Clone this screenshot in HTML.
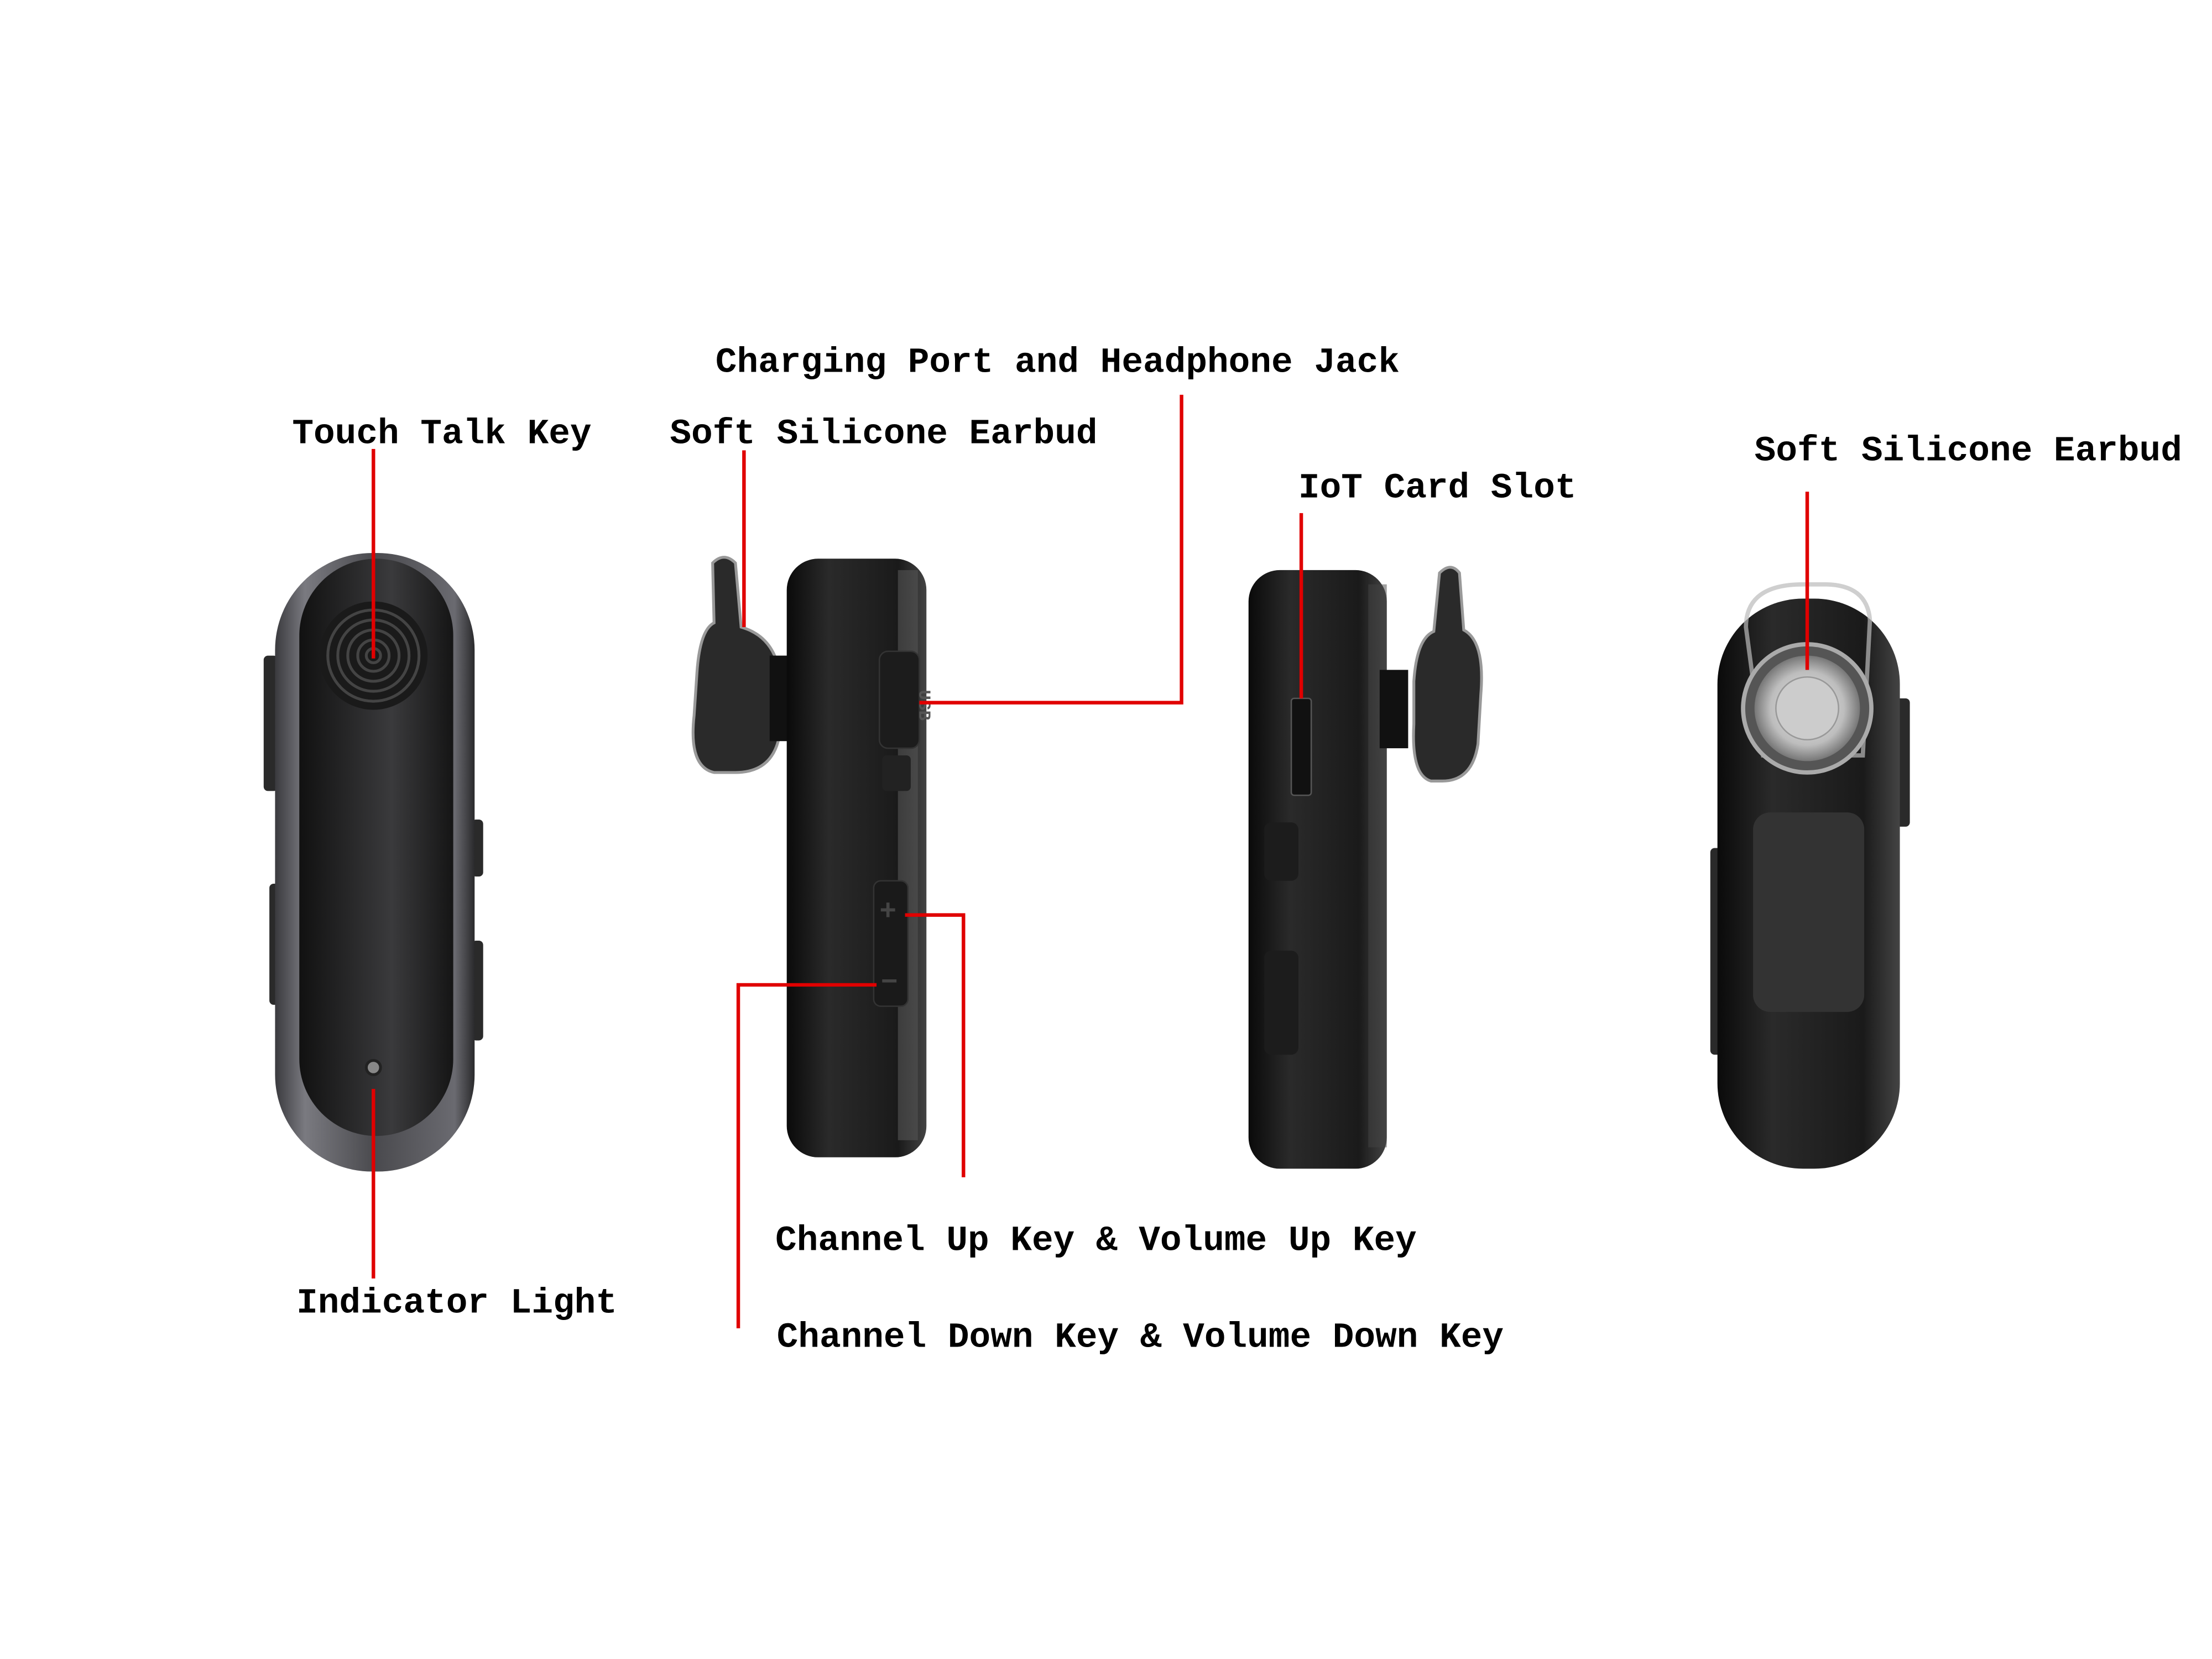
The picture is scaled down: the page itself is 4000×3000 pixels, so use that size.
<!DOCTYPE html>
<html><head><meta charset="utf-8"><style>
html,body{margin:0;padding:0;background:#fff;}
svg{display:block;}
text{font-family:"Liberation Mono",monospace;font-weight:bold;font-size:25px;fill:#000;}
</style></head><body>
<svg width="4000" height="3000" viewBox="0 0 1552 1164" xmlns="http://www.w3.org/2000/svg">
<defs>
<linearGradient id="g1" x1="0" x2="1" y1="0" y2="0">
<stop offset="0" stop-color="#3a3a3e"/><stop offset="0.15" stop-color="#7a7a80"/><stop offset="0.5" stop-color="#4a4a4e"/><stop offset="0.9" stop-color="#6a6a70"/><stop offset="1" stop-color="#2a2a2c"/></linearGradient>
<linearGradient id="g2" x1="0" x2="1" y1="0" y2="0">
<stop offset="0" stop-color="#111"/><stop offset="0.6" stop-color="#3a3a3c"/><stop offset="1" stop-color="#151515"/></linearGradient>
<linearGradient id="g3" x1="0" x2="1" y1="0" y2="0">
<stop offset="0" stop-color="#0a0a0a"/><stop offset="0.3" stop-color="#2a2a2a"/><stop offset="0.8" stop-color="#1a1a1a"/><stop offset="1" stop-color="#444"/></linearGradient>
<radialGradient id="gm" cx="0.5" cy="0.5" r="0.5"><stop offset="0" stop-color="#e8e8e8"/><stop offset="0.7" stop-color="#bdbdbd"/><stop offset="1" stop-color="#777"/></radialGradient>
</defs>

<!-- Device 1 -->
<rect x="185" y="460" width="10" height="95" rx="3" fill="#2a2a2a"/>
<rect x="189" y="620" width="7" height="85" rx="3" fill="#2a2a2a"/>
<rect x="331" y="575" width="8" height="40" rx="3" fill="#2a2a2a"/>
<rect x="331" y="660" width="8" height="70" rx="3" fill="#2a2a2a"/>
<rect x="193" y="388" width="140" height="434" rx="68" fill="url(#g1)"/>
<rect x="210" y="392" width="108" height="405" rx="54" fill="url(#g2)"/>
<circle cx="262" cy="460" r="38" fill="#1a1a1a"/>
<circle cx="262" cy="460" r="32" fill="none" stroke="#444" stroke-width="2"/>
<circle cx="262" cy="460" r="25" fill="none" stroke="#444" stroke-width="2"/>
<circle cx="262" cy="460" r="18" fill="none" stroke="#444" stroke-width="2"/>
<circle cx="262" cy="460" r="11" fill="none" stroke="#444" stroke-width="2"/>
<circle cx="262" cy="460" r="5" fill="none" stroke="#444" stroke-width="2"/>
<circle cx="262" cy="749" r="5" fill="#888" stroke="#222" stroke-width="2"/>

<!-- Device 2 -->
<path d="M500 395 q8 -8 16 0 l4 45 q28 8 28 45 l-2 35 q-6 22 -30 22 l-15 0 q-18 -4 -14 -40 l2 -30 q2 -30 12 -35z" fill="#2a2a2a" stroke="#999" stroke-width="2"/>
<rect x="540" y="460" width="15" height="60" fill="#111"/>
<rect x="552" y="392" width="98" height="420" rx="22" fill="url(#g3)"/>
<rect x="630" y="400" width="14" height="400" fill="#555" opacity="0.6"/>
<rect x="617" y="457" width="28" height="68" rx="6" fill="#1c1c1c" stroke="#333"/>
<text x="625" y="476" transform="rotate(90 631 490)" style="font-size:12px;fill:#555">USB</text>
<rect x="619" y="530" width="20" height="25" rx="3" fill="#222"/>
<rect x="613" y="618" width="24" height="88" rx="5" fill="#1a1a1a" stroke="#333"/>
<text x="617" y="645" style="font-size:20px;fill:#444">+</text>
<text x="618" y="695" style="font-size:20px;fill:#444">−</text>

<!-- Device 3 -->
<rect x="876" y="400" width="97" height="420" rx="22" fill="url(#g3)"/>
<rect x="960" y="410" width="13" height="395" fill="#444" opacity="0.5"/>
<rect x="968" y="470" width="20" height="55" fill="#111"/>
<path d="M1010 402 q8 -8 14 0 l3 40 q15 8 12 45 l-2 35 q-4 26 -25 26 l-8 0 q-14 -4 -12 -40 l0 -30 q2 -30 14 -35z" fill="#2a2a2a" stroke="#999" stroke-width="2"/>
<rect x="906" y="490" width="14" height="68" rx="2" fill="#111" stroke="#555"/>
<rect x="887" y="577" width="24" height="41" rx="5" fill="#1c1c1c"/>
<rect x="887" y="667" width="24" height="73" rx="5" fill="#1c1c1c"/>

<!-- Device 4 -->
<rect x="1200" y="595" width="10" height="145" rx="3" fill="#2a2a2a"/>
<rect x="1330" y="490" width="10" height="90" rx="3" fill="#2a2a2a"/>
<rect x="1205" y="420" width="128" height="400" rx="60" fill="url(#g3)"/>
<rect x="1230" y="570" width="78" height="140" rx="12" fill="#333"/>
<path d="M1225 440 q0 -30 40 -30 l15 0 q30 0 32 25 l-5 95 l-70 0z" fill="none" stroke="#bbb" stroke-width="3" opacity="0.7"/>
<circle cx="1268" cy="497" r="45" fill="#555" stroke="#aaa" stroke-width="3"/>
<circle cx="1268" cy="497" r="37" fill="url(#gm)"/>
<circle cx="1268" cy="497" r="22" fill="#ccc" stroke="#999"/>

<!-- Red connectors -->
<g stroke="#e00000" stroke-width="2.5" fill="none">
<line x1="262" y1="315" x2="262" y2="462"/>
<line x1="262" y1="764" x2="262" y2="897"/>
<line x1="522" y1="316" x2="522" y2="440"/>
<polyline points="829,277 829,493 645,493"/>
<line x1="913" y1="360" x2="913" y2="490"/>
<line x1="1268" y1="345" x2="1268" y2="470"/>
<polyline points="635,642 676,642 676,826"/>
<polyline points="615,691 518,691 518,932"/>
</g>

<!-- Labels -->
<text x="502" y="261">Charging Port and Headphone Jack</text>
<text x="205" y="311">Touch Talk Key</text>
<text x="470" y="311">Soft Silicone Earbud</text>
<text x="911" y="349">IoT Card Slot</text>
<text x="1231" y="323">Soft Silicone Earbud</text>
<text x="208" y="921">Indicator Light</text>
<text x="544" y="877">Channel Up Key &amp; Volume Up Key</text>
<text x="545" y="945">Channel Down Key &amp; Volume Down Key</text>
</svg>
</body></html>
